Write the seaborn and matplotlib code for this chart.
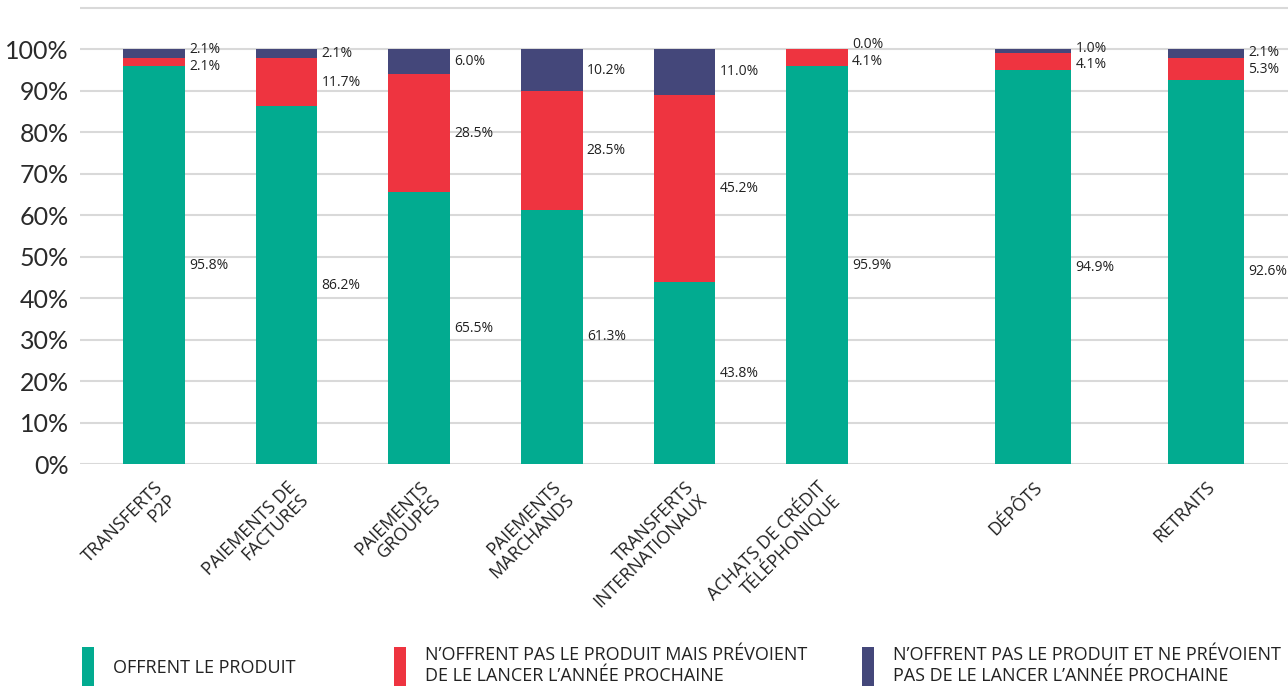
import matplotlib
matplotlib.use("Agg")
import matplotlib.pyplot as plt
from matplotlib.patches import Rectangle
from matplotlib.ticker import FuncFormatter, MultipleLocator
import seaborn as sns

# Share of providers per service (percent)
categories = [
    "TRANSFERTS\nP2P",
    "PAIEMENTS DE\nFACTURES",
    "PAIEMENTS\nGROUPÉS",
    "PAIEMENTS\nMARCHANDS",
    "TRANSFERTS\nINTERNATIONAUX",
    "ACHATS DE CRÉDIT\nTÉLÉPHONIQUE",
    "DÉPÔTS",
    "RETRAITS",
]
offer = [95.8, 86.2, 65.5, 61.3, 43.8, 95.9, 94.9, 92.6]
plan_next_year = [2.1, 11.7, 28.5, 28.5, 45.2, 4.1, 4.1, 5.3]
no_plan = [2.1, 2.1, 6.0, 10.2, 11.0, 0.0, 1.0, 2.1]

series_names = [
    "OFFRENT LE PRODUIT",
    "N’OFFRENT PAS LE PRODUIT MAIS PRÉVOIENT\nDE LE LANCER L’ANNÉE PROCHAINE",
    "N’OFFRENT PAS LE PRODUIT ET NE PRÉVOIENT\nPAS DE LE LANCER L’ANNÉE PROCHAINE",
]
colors = ["#02AB90", "#EE3440", "#44477A"]

# Slot layout: the last two services sit in a separate, wider group
slots = [0, 1, 2, 3, 4, 5, 6.63, 7.93]
widths = [0.464] * 6 + [0.573] * 2

sns.set_theme(style="white")
plt.rcParams["font.family"] = ["Open Sans", "DejaVu Sans"]

fig = plt.figure(figsize=(12.88, 6.86), dpi=100)
ax = fig.add_axes([0.0621, 0.3236, 0.9379, 0.6715])

series = [offer, plan_next_year, no_plan]
bottoms = [0.0] * len(categories)
label_pos = [[] for _ in categories]
for vals, col in zip(series, colors):
    ax.bar(slots, vals, width=widths, bottom=bottoms, color=col,
           linewidth=0, zorder=3)
    for i, v in enumerate(vals):
        label_pos[i].append([bottoms[i] + v / 2, v])
    bottoms = [b + v for b, v in zip(bottoms, vals)]

# Value labels to the right of each segment, nudged apart when crowded
min_gap = 4.0
for i, labs in enumerate(label_pos):
    ys = [p[0] for p in labs]
    for k in range(1, len(ys)):
        gap = ys[k] - ys[k - 1]
        if gap < min_gap:
            shift = (min_gap - gap) / 2
            ys[k - 1] -= shift
            ys[k] += shift
    x_edge = slots[i] + widths[i] / 2
    for y, (_, v) in zip(ys, labs):
        ax.annotate(f"{v:.1f}%", xy=(x_edge, y), xytext=(3, 0),
                    textcoords="offset points", ha="left", va="center",
                    fontsize=10, color="#222222", zorder=4)

ax.set_ylim(0, 111)
ax.set_xlim(-0.558, 8.55)
ax.yaxis.set_major_locator(MultipleLocator(10))
ax.yaxis.set_major_formatter(
    FuncFormatter(lambda v, _: f"{v:.0f}%" if v <= 100 else ""))
ax.grid(axis="y", color="#D9D9D9", linewidth=1.5, zorder=0)
ax.grid(axis="x", visible=False)
for s in ax.spines.values():
    s.set_visible(False)
ax.tick_params(axis="y", length=0, pad=8, labelsize=18, labelcolor="#2A2A2A")
for t in ax.get_yticklabels():
    t.set_fontfamily(["Lato", "DejaVu Sans"])
    t.set_fontweight("normal")
ax.get_ygridlines()[0].set_visible(False)

ax.set_xticks(slots)
ax.set_xticklabels(categories, rotation=45, ha="right",
                   rotation_mode="anchor", multialignment="right",
                   fontsize=13, color="#222222", linespacing=1.0)
ax.tick_params(axis="x", length=0, pad=10)

# Legend along the bottom edge
legend_x = [82, 394, 862]
W, H = fig.bbox.width, fig.bbox.height
for x0, name, col in zip(legend_x, series_names, colors):
    fig.patches.append(Rectangle((x0 / W, 0), 12 / W, 39 / H,
                                 transform=fig.transFigure, color=col,
                                 linewidth=0))
    nlines = name.count("\n") + 1
    ytop = (686 - 646) / H if nlines > 1 else (686 - 659) / H
    fig.text((x0 + 31) / W, ytop, name, ha="left", va="top",
             fontsize=13, color="#222222", linespacing=1.2)

fig.savefig("out.png", dpi=100)
